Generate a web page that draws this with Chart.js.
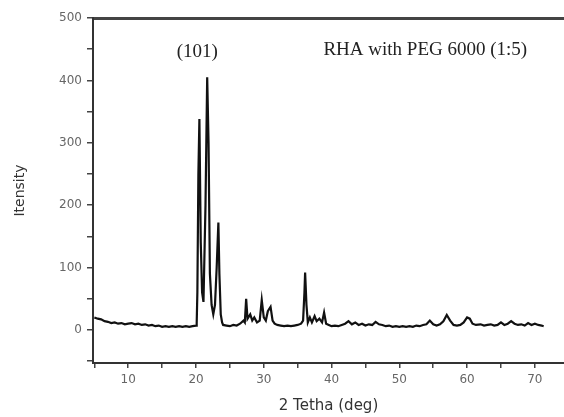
<!DOCTYPE html>
<html>
<head>
<meta charset="utf-8">
<script src="https://cdn.jsdelivr.net/npm/chart.js@4.4.1/dist/chart.umd.min.js"></script>
<style>
  html, body { margin: 0; padding: 0; background: #fff; }
  #wrap { width: 564px; height: 417px; }
</style>
</head>
<body>
<div id="wrap"><canvas id="xrdChart"></canvas></div>
<script>
// 2 theta (deg) positions
const twoTheta = [
  5, 5.5, 6, 6.5, 7, 7.5, 8, 8.5, 9, 9.5, 10, 10.5, 11, 11.5, 12, 12.5, 13, 13.5, 14, 14.5,
  15, 15.5, 16, 16.5, 17, 17.5, 18, 18.5, 19, 19.5, 20,
  20.1, 20.2, 20.35, 20.5, 20.7, 20.9, 21.1, 21.4, 21.65, 21.85, 22.05, 22.3, 22.55, 22.8, 23.05, 23.3, 23.45, 23.65, 23.85,
  24, 24.5, 25, 25.5, 26, 26.5, 27, 27.2, 27.4, 27.6, 28, 28.3, 28.6, 29, 29.4, 29.7, 30, 30.3, 30.6, 31, 31.3, 31.6,
  32, 32.5, 33, 33.5, 34, 34.5, 35, 35.5, 35.8, 36.0, 36.1, 36.3, 36.5, 36.8, 37.1, 37.5, 37.8, 38.2, 38.6, 38.9, 39.2, 39.6,
  40, 40.5, 41, 41.5, 42, 42.5, 43, 43.5, 44, 44.5, 45, 45.5, 46, 46.5, 47, 47.5, 48, 48.5, 49, 49.5,
  50, 50.5, 51, 51.5, 52, 52.5, 53, 53.5, 54, 54.5, 55, 55.5, 56, 56.5, 57, 57.5, 58, 58.5, 59, 59.5,
  60, 60.4, 60.8, 61.3, 62, 62.5, 63, 63.5, 64, 64.5, 65, 65.5, 66, 66.5, 67, 67.5, 68, 68.5, 69, 69.5,
  70, 70.5, 71, 71.3
];
// Intensity values
const intensity = [
  20, 18, 17, 14, 13, 11, 12, 10, 11, 9, 10, 11, 9, 10, 8, 9, 7, 8, 6, 7,
  5, 6, 5, 6, 5, 6, 5, 6, 5, 6, 7,
  10, 60, 250, 338, 140, 60, 45, 200, 405, 300, 90, 40, 25, 40, 100, 172, 90, 25, 12,
  8, 7, 6, 8, 7, 10, 15, 12, 50, 18, 25, 15, 20, 12, 15, 48, 20, 15, 30, 37, 15, 10,
  8, 7, 6, 7, 6, 7, 8, 10, 15, 60, 92, 40, 12, 20, 12, 22, 14, 18, 12, 28, 10, 8,
  6, 7, 6, 8, 10, 14, 9, 12, 8, 10, 7, 9, 8, 13, 9, 8, 6, 7, 5, 6,
  5, 6, 5, 6, 5, 7, 6, 8, 9, 15, 9, 7, 9, 14, 24, 15, 8, 7, 8, 12,
  20, 18, 10, 8, 9, 7, 8, 9, 7, 8, 12, 8, 10, 14, 10, 8, 9, 7, 11, 8,
  10, 8, 7, 6
];
const xTickLabels = [10, 20, 30, 40, 50, 60, 70];
const yTickLabels = [0, 100, 200, 300, 400, 500];

const points = twoTheta.map(function(x, i) { return { x: x, y: intensity[i] }; });

// Chữ chú thích trên vùng vẽ
const annotationPlugin = {
  id: 'annotations',
  afterDatasetsDraw: function(chart) {
    const ctx = chart.ctx;
    const xs = chart.scales.x;
    const ys = chart.scales.y;
    ctx.save();
    ctx.fillStyle = '#222';
    ctx.font = '19px "Liberation Serif", "Times New Roman", serif';
    ctx.textBaseline = 'middle';
    ctx.textAlign = 'center';
    ctx.fillText('(101)', xs.getPixelForValue(20.2), ys.getPixelForValue(445));
    ctx.textAlign = 'left';
    ctx.fillText('RHA with PEG 6000 (1:5)', xs.getPixelForValue(38.8), ys.getPixelForValue(448));
    ctx.restore();
  }
};

const tickFont = { family: '"DejaVu Sans", sans-serif', size: 12 };

new Chart(document.getElementById('xrdChart'), {
  type: 'scatter',
  data: {
    datasets: [{
      data: points,
      showLine: true,
      borderColor: '#111',
      borderWidth: 2.2,
      pointRadius: 0,
      tension: 0
    }]
  },
  options: {
    responsive: true,
    maintainAspectRatio: false,
    animation: false,
    layout: { padding: { top: 18, right: 0, left: 0, bottom: 0 } },
    plugins: {
      legend: { display: false },
      tooltip: { enabled: false }
    },
    scales: {
      x: {
        type: 'linear',
        position: 'bottom',
        min: 4.8,
        max: 74.3,
        grid: { drawOnChartArea: false, drawTicks: true, tickLength: 5, color: '#444', lineWidth: 1.5 },
        border: { display: true, color: '#333', width: 2 },
        ticks: {
          stepSize: 5,
          includeBounds: false,
          color: '#666',
          font: tickFont,
          padding: 5,
          maxRotation: 0,
          autoSkip: false,
          callback: function(v) { return xTickLabels.indexOf(v) >= 0 ? String(v) : ''; }
        },
        title: {
          display: true,
          text: '2 Tetha (deg)',
          color: '#333',
          font: { family: '"DejaVu Sans", sans-serif', size: 15 },
          padding: { top: 4, bottom: 2 }
        },
        afterFit: function(scale) { scale.height = 54; }
      },
      xTop: {
        type: 'linear',
        position: 'top',
        min: 4.8,
        max: 74.3,
        grid: { display: false },
        border: { display: true, color: '#444', width: 3 },
        ticks: { display: false },
        afterFit: function(scale) { scale.height = 0; }
      },
      y: {
        min: -53,
        max: 500,
        grid: { drawOnChartArea: false, drawTicks: true, tickLength: 6, color: '#444', lineWidth: 1.5 },
        border: { display: true, color: '#333', width: 2 },
        ticks: {
          stepSize: 50,
          includeBounds: false,
          color: '#666',
          font: tickFont,
          padding: 5,
          autoSkip: false,
          callback: function(v) { return yTickLabels.indexOf(v) >= 0 ? String(v) : ''; }
        },
        title: {
          display: true,
          text: 'Itensity',
          color: '#333',
          font: { family: '"DejaVu Sans", sans-serif', size: 14 },
          padding: { top: 12, bottom: 0 }
        },
        afterFit: function(scale) { scale.width = 93; }
      }
    }
  },
  plugins: [annotationPlugin]
});
</script>
</body>
</html>
